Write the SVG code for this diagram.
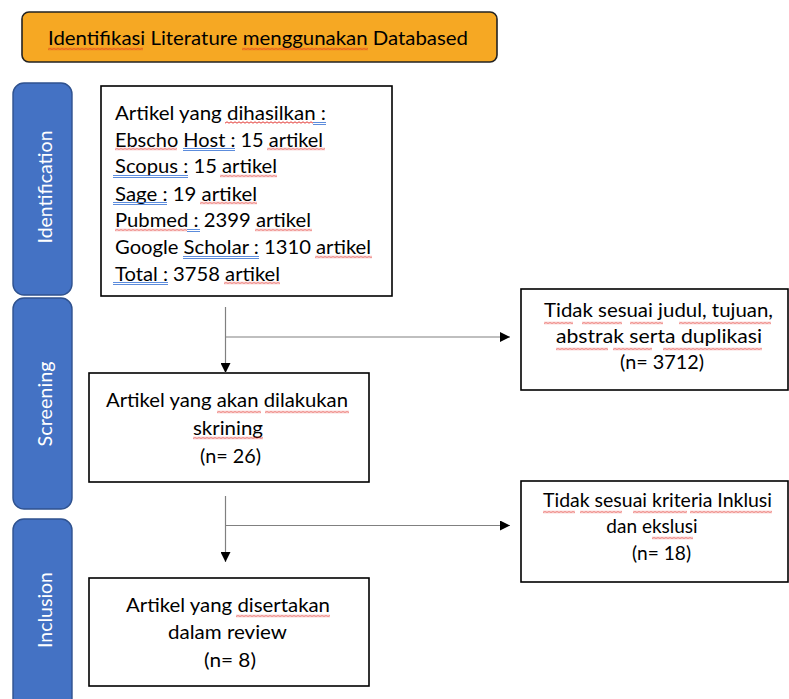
<svg xmlns="http://www.w3.org/2000/svg" width="789" height="699" viewBox="0 0 789 699">
<style>
.t{font-family:Lato,"Open Sans","Liberation Sans",sans-serif;font-size:19px;fill:#000}
.c{text-anchor:middle}
.side{font-family:Lato,"Open Sans","Liberation Sans",sans-serif;font-size:19px;fill:#fff;text-anchor:middle}
.box{fill:#fff;stroke:#000;stroke-width:1.6}
.bar{fill:#4472C4;stroke:#2F528F;stroke-width:1.4}
.line{fill:none;stroke:#808080;stroke-width:1.2}
.blue{stroke:#4A7FD8;stroke-width:0.9;fill:none}
</style>
<defs>
<pattern id="wave" width="4" height="3" patternUnits="userSpaceOnUse">
<path d="M0 2.2 L2 0.8 L4 2.2" fill="none" stroke="#E0201B" stroke-width="0.9"/>
</pattern>
<marker id="arr" markerUnits="userSpaceOnUse" markerWidth="10" markerHeight="10" refX="10" refY="5" orient="auto">
<path d="M0 0 L10 5 L0 10 Z" fill="#000"/>
</marker>
</defs>

<g id="title">
<rect x="22" y="12" width="475" height="50" rx="7" fill="#F6A823" stroke="#222" stroke-width="1.6"/>
<text class="t" x="48" y="45" textLength="420" lengthAdjust="spacingAndGlyphs">Identifikasi  Literature  menggunakan  Databased</text>
</g>

<g id="bar-identification">
<rect class="bar" x="13" y="83" width="59" height="212" rx="11"/>
<text class="side" transform="translate(52,187) rotate(-90)" textLength="113" lengthAdjust="spacingAndGlyphs">Identification</text>
</g>
<g id="bar-screening">
<rect class="bar" x="13" y="298" width="59" height="211" rx="11"/>
<text class="side" transform="translate(52,404) rotate(-90)" textLength="85" lengthAdjust="spacingAndGlyphs">Screening</text>
</g>
<g id="bar-inclusion">
<rect class="bar" x="13" y="519" width="59" height="200" rx="11"/>
<text class="side" transform="translate(52,610) rotate(-90)" textLength="76" lengthAdjust="spacingAndGlyphs">Inclusion</text>
</g>

<g id="box-identified">
<rect class="box" x="101" y="86" width="291" height="210"/>
<text class="t" x="115" y="120" textLength="211" lengthAdjust="spacingAndGlyphs">Artikel yang dihasilkan :</text>
<text class="t" x="115" y="147" textLength="208" lengthAdjust="spacingAndGlyphs">Ebscho  Host : 15 artikel</text>
<text class="t" x="115" y="173" textLength="162" lengthAdjust="spacingAndGlyphs">Scopus  : 15 artikel</text>
<text class="t" x="115" y="201" textLength="142" lengthAdjust="spacingAndGlyphs">Sage : 19 artikel</text>
<text class="t" x="115" y="227" textLength="196" lengthAdjust="spacingAndGlyphs">Pubmed  : 2399 artikel</text>
<text class="t" x="115" y="254" textLength="256" lengthAdjust="spacingAndGlyphs">Google Scholar : 1310 artikel</text>
<text class="t" x="115" y="281" textLength="165" lengthAdjust="spacingAndGlyphs">Total : 3758 artikel</text>
</g>

<g id="box-excluded-1">
<rect class="box" x="521" y="289" width="267" height="101"/>
<text class="t c" x="658.5" y="317" textLength="229" lengthAdjust="spacingAndGlyphs">Tidak sesuai  judul, tujuan,</text>
<text class="t c" x="659" y="343" textLength="206" lengthAdjust="spacingAndGlyphs">abstrak serta duplikasi</text>
<text class="t c" x="662" y="369" textLength="84" lengthAdjust="spacingAndGlyphs">(n= 3712)</text>
</g>

<g id="box-screening">
<rect class="box" x="89" y="373" width="280" height="109"/>
<text class="t c" x="227" y="407" textLength="242" lengthAdjust="spacingAndGlyphs">Artikel yang akan dilakukan</text>
<text class="t c" x="228" y="435" textLength="70" lengthAdjust="spacingAndGlyphs">skrining</text>
<text class="t c" x="230.5" y="463" textLength="61" lengthAdjust="spacingAndGlyphs">(n= 26)</text>
</g>

<g id="box-excluded-2">
<rect class="box" x="521" y="481" width="267" height="101"/>
<text class="t c" x="657.5" y="507" textLength="229" lengthAdjust="spacingAndGlyphs">Tidak sesuai  kriteria Inklusi</text>
<text class="t c" x="652" y="533">dan ekslusi</text>
<text class="t c" x="661.5" y="560" textLength="59" lengthAdjust="spacingAndGlyphs">(n= 18)</text>
</g>

<g id="box-included">
<rect class="box" x="89" y="578" width="280" height="108"/>
<text class="t c" x="228" y="612" textLength="204" lengthAdjust="spacingAndGlyphs">Artikel yang disertakan</text>
<text class="t c" x="227.5" y="639" textLength="119" lengthAdjust="spacingAndGlyphs">dalam review</text>
<text class="t c" x="230" y="667" textLength="52" lengthAdjust="spacingAndGlyphs">(n= 8)</text>
</g>

<g id="connectors">
<path class="line" d="M225.5 307 V373" marker-end="url(#arr)"/>
<path class="line" d="M225.5 337 H510" marker-end="url(#arr)"/>
<path class="line" d="M225.5 496 V562" marker-end="url(#arr)"/>
<path class="line" d="M225.5 525.5 H510" marker-end="url(#arr)"/>
</g>

<g id="spellcheck-marks">
<rect transform="translate(48,47.5)" width="95" height="3" fill="url(#wave)"/>
<rect transform="translate(242,47.5)" width="126" height="3" fill="url(#wave)"/>
<rect transform="translate(225,121)" width="88" height="3" fill="url(#wave)"/>
<rect transform="translate(115,147.5)" width="62" height="3" fill="url(#wave)"/>
<rect transform="translate(267,147.5)" width="58" height="3" fill="url(#wave)"/>
<rect transform="translate(220,174.5)" width="57" height="3" fill="url(#wave)"/>
<rect transform="translate(200,201.5)" width="57" height="3" fill="url(#wave)"/>
<rect transform="translate(115,228.5)" width="72" height="3" fill="url(#wave)"/>
<rect transform="translate(255,228.5)" width="57" height="3" fill="url(#wave)"/>
<rect transform="translate(315,255.5)" width="57" height="3" fill="url(#wave)"/>
<rect transform="translate(224,281.5)" width="56" height="3" fill="url(#wave)"/>
<rect transform="translate(217,410.5)" width="44" height="3" fill="url(#wave)"/>
<rect transform="translate(265,410.5)" width="84" height="3" fill="url(#wave)"/>
<rect transform="translate(193,436.5)" width="70" height="3" fill="url(#wave)"/>
<rect transform="translate(236,614.5)" width="94" height="3" fill="url(#wave)"/>
<rect transform="translate(544,321.5)" width="29" height="3" fill="url(#wave)"/>
<rect transform="translate(582,321.5)" width="40" height="3" fill="url(#wave)"/>
<rect transform="translate(630,321.5)" width="33" height="3" fill="url(#wave)"/>
<rect transform="translate(679,321.5)" width="92" height="3" fill="url(#wave)"/>
<rect transform="translate(556,347.5)" width="52" height="3" fill="url(#wave)"/>
<rect transform="translate(613,347.5)" width="39" height="3" fill="url(#wave)"/>
<rect transform="translate(663,347.5)" width="99" height="3" fill="url(#wave)"/>
<rect transform="translate(543,510.5)" width="32" height="3" fill="url(#wave)"/>
<rect transform="translate(580,510.5)" width="42" height="3" fill="url(#wave)"/>
<rect transform="translate(633,510.5)" width="54" height="3" fill="url(#wave)"/>
<rect transform="translate(690,510.5)" width="82" height="3" fill="url(#wave)"/>
<rect transform="translate(652,536.5)" width="41" height="3" fill="url(#wave)"/>
<path class="blue" d="M313 122.5 H326 M313 124.5 H326"/>
<path class="blue" d="M183 148.5 H235 M183 150.5 H235"/>
<path class="blue" d="M113 175.5 H188 M113 177.5 H188"/>
<path class="blue" d="M113 202.5 H167 M113 204.5 H167"/>
<path class="blue" d="M187 229.5 H200 M187 231.5 H200"/>
<path class="blue" d="M183 256.5 H259 M183 258.5 H259"/>
<path class="blue" d="M113 282.5 H168 M113 284.5 H168"/>
</g>
</svg>
